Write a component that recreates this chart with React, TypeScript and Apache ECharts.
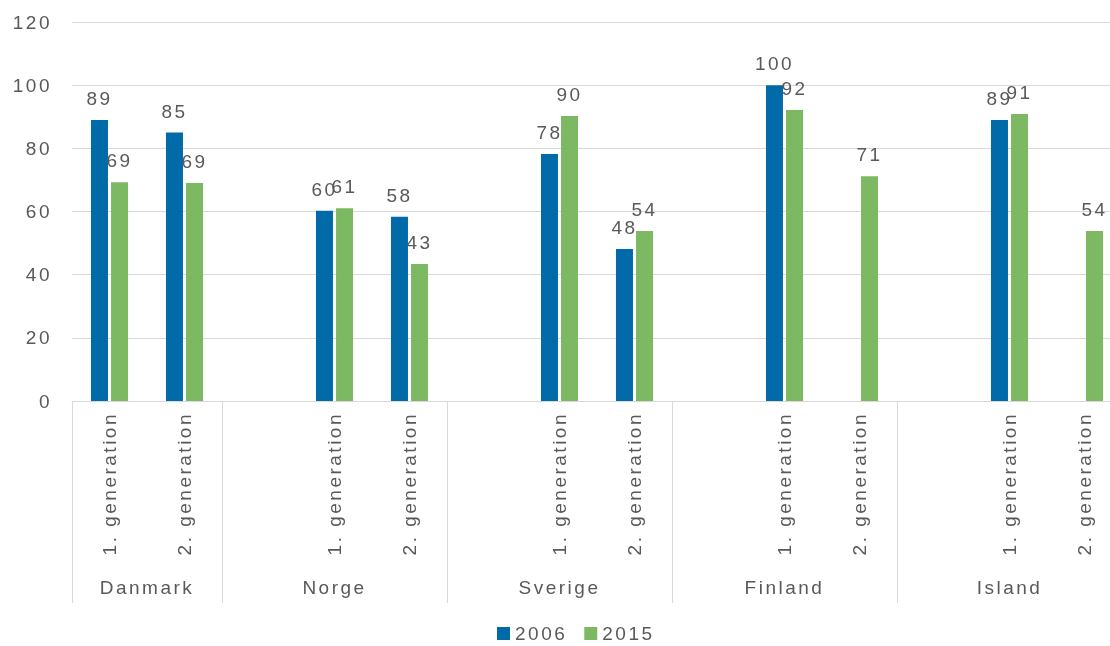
import React, { useEffect, useRef } from "react";
import * as echarts from "echarts";

const groups = ["Danmark", "Norge", "Sverige", "Finland", "Island"];
const generations = ["1. generation", "2. generation"];
const seriesNames = ["2006", "2015"];
// values per group, per generation
const values2006: (number | null)[][] = [
  [89, 85],
  [60.2, 58.3],
  [78.2, 48.1],
  [100, null],
  [89, null],
];
const values2015: (number | null)[][] = [
  [69.3, 69],
  [61, 43.4],
  [90.2, 53.8],
  [92.1, 71.2],
  [90.9, 53.8],
];
const yTicks = { min: 0, max: 120, interval: 20 };
const colors = ["#006BA8", "#7DB962"];

// flat category list with a blank spacer slot before every group but the first
const flatKeys: string[] = [];
const flatLabels: string[] = [];
const flat2006: (number | null)[] = [];
const flat2015: (number | null)[] = [];
const groupSlots: { start: number; end: number }[] = [];
groups.forEach((g, gi) => {
  const start = flatKeys.length;
  if (gi > 0) {
    flatKeys.push(g + "|blank");
    flatLabels.push("");
    flat2006.push(null);
    flat2015.push(null);
  }
  generations.forEach((gen, k) => {
    flatKeys.push(g + "|" + gen);
    flatLabels.push(gen);
    flat2006.push(values2006[gi][k]);
    flat2015.push(values2015[gi][k]);
  });
  groupSlots.push({ start, end: flatKeys.length });
});

// half-slot points for the group level axis (boundaryGap false)
const nPoints = flatKeys.length * 2 + 1;
const groupPointKeys: string[] = [];
const groupPointLabels: string[] = [];
const separatorPoints = new Set<number>();
for (let i = 0; i < nPoints; i++) {
  groupPointKeys.push("p" + i);
  groupPointLabels.push("");
}
groupSlots.forEach((s, gi) => {
  const a = s.start * 2;
  const b = s.end * 2;
  separatorPoints.add(a);
  separatorPoints.add(b);
  groupPointLabels[(a + b) / 2] = groups[gi];
});

const FONT = "'Liberation Sans', Arial, sans-serif";
const TEXT = "#595959";
const GRID = "#D9D9D9";
const FS = 19;

export default function App() {
  const ref = useRef<HTMLDivElement>(null);
  useEffect(() => {
    if (!ref.current) return;
    const chart = echarts.init(ref.current, undefined, { renderer: "svg" });
    const labelCfg = {
      show: true,
      position: "top",
      distance: 12,
      fontSize: FS,
      fontFamily: FONT,
      color: TEXT,
      formatter: (p: any) => String(Math.round(p.value)),
    };
    chart.setOption({
      animation: false,
      textStyle: { fontFamily: FONT },
      grid: {
        left: 72,
        top: 22,
        height: 379,
        width: 1050,
        containLabel: false,
        outerBoundsMode: "none",
      },
      legend: {
        data: seriesNames,
        left: 497,
        top: 624,
        padding: 0,
        itemWidth: 13,
        itemHeight: 13,
        itemGap: 27,
        icon: "rect",
        textStyle: { fontSize: FS, color: TEXT, fontFamily: FONT },
      },
      xAxis: [
        {
          type: "category",
          data: flatKeys,
          position: "bottom",
          axisLine: { show: true, lineStyle: { color: GRID, width: 1 } },
          axisTick: { show: false },
          axisLabel: {
            interval: 0,
            rotate: 90,
            margin: 11,
            fontSize: FS,
            color: TEXT,
            fontFamily: FONT,
            formatter: (_v: string, i: number) => flatLabels[i],
          },
        },
        {
          type: "category",
          data: groupPointKeys,
          boundaryGap: false,
          position: "bottom",
          offset: 0,
          axisLine: { show: false },
          axisTick: {
            show: true,
            inside: false,
            length: 202,
            interval: (i: number) => separatorPoints.has(i),
            lineStyle: { color: GRID, width: 1 },
          },
          axisLabel: {
            interval: (i: number) => groupPointLabels[i] !== "",
            margin: 177,
            fontSize: FS,
            color: TEXT,
            fontFamily: FONT,
            hideOverlap: false,
            formatter: (_v: string, i: number) => groupPointLabels[i],
          },
          splitLine: { show: false },
        },
      ],
      yAxis: {
        type: "value",
        min: yTicks.min,
        max: yTicks.max,
        interval: yTicks.interval,
        axisLine: { show: false },
        axisTick: { show: false },
        splitLine: { lineStyle: { color: GRID, width: 1 } },
        axisLabel: { fontSize: FS, color: TEXT, fontFamily: FONT, margin: 20 },
      },
      series: [
        {
          name: seriesNames[0],
          type: "bar",
          xAxisIndex: 0,
          data: flat2006,
          barWidth: 17,
          barGap: "18%",
          itemStyle: { color: colors[0] },
          label: labelCfg,
        },
        {
          name: seriesNames[1],
          type: "bar",
          xAxisIndex: 0,
          data: flat2015,
          barWidth: 17,
          barGap: "18%",
          itemStyle: { color: colors[1] },
          label: labelCfg,
        },
      ],
    });
    return () => chart.dispose();
  }, []);
  return (
    <>
      <style>{`.chart-root text { letter-spacing: 2.5px; }`}</style>
      <div
        ref={ref}
        className="chart-root"
        style={{ position: "fixed", left: 0, top: 0, width: 1110, height: 646 }}
      />
    </>
  );
}
